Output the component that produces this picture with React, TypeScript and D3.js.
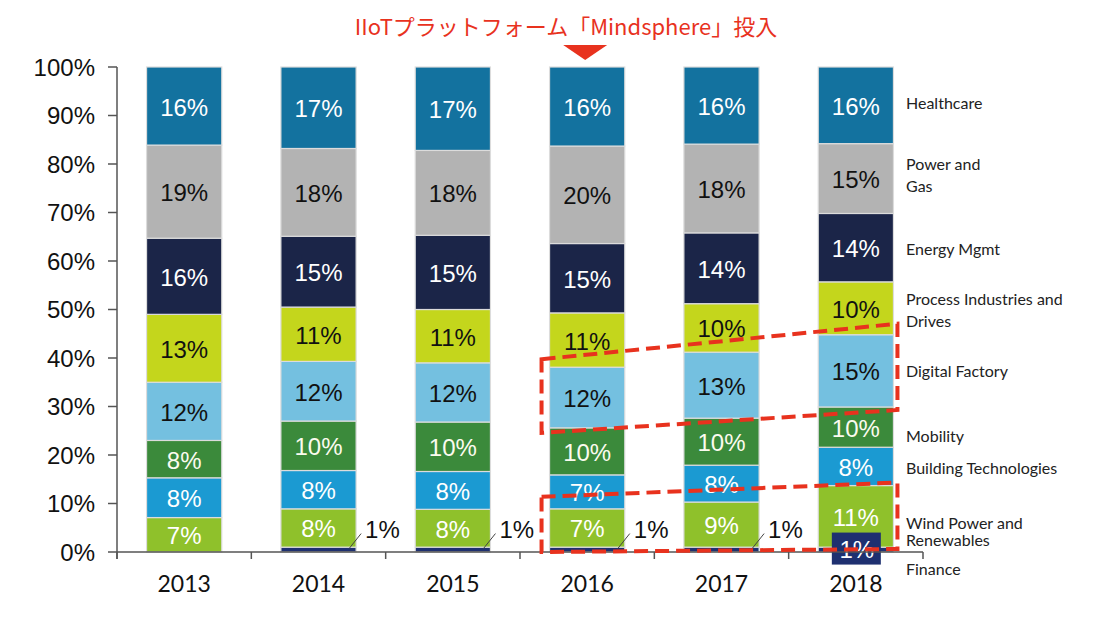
import React from 'react';
import * as d3 from 'd3';

// ---------- DATA ----------
const years = ['2013', '2014', '2015', '2016', '2017', '2018'];

// share of each business segment per year (percent)
const finance = [0, 1.0, 1.0, 1.0, 1.0, 1.0];
const windPower = [7.1, 7.9, 7.8, 7.9, 9.3, 12.7];
const buildingTech = [8.2, 7.9, 7.8, 7.0, 7.6, 7.9];
const mobility = [7.7, 10.2, 10.2, 9.7, 9.7, 8.3];
const digitalFactory = [12.0, 12.3, 12.2, 12.5, 13.6, 14.9];
const processIndustries = [14.0, 11.2, 11.0, 11.2, 10.0, 10.9];
const energyMgmt = [15.7, 14.6, 15.3, 14.3, 14.6, 14.1];
const powerGas = [19.2, 18.1, 17.5, 20.1, 18.3, 14.4];
const healthcare = [16.1, 16.8, 17.2, 16.3, 15.9, 15.8];

// printed data labels (percent)
const financeLabels = [0, 1, 1, 1, 1, 1];
const windPowerLabels = [7, 8, 8, 7, 9, 11];
const buildingTechLabels = [8, 8, 8, 7, 8, 8];
const mobilityLabels = [8, 10, 10, 10, 10, 10];
const digitalFactoryLabels = [12, 12, 12, 12, 13, 15];
const processIndustriesLabels = [13, 11, 11, 11, 10, 10];
const energyMgmtLabels = [16, 15, 15, 15, 14, 14];
const powerGasLabels = [19, 18, 18, 20, 18, 15];
const healthcareLabels = [16, 17, 17, 16, 16, 16];

const seriesNames = [
  'Finance',
  'Wind Power and Renewables',
  'Building Technologies',
  'Mobility',
  'Digital Factory',
  'Process Industries and Drives',
  'Energy Mgmt',
  'Power and Gas',
  'Healthcare',
];
const seriesValues = [finance, windPower, buildingTech, mobility, digitalFactory, processIndustries, energyMgmt, powerGas, healthcare];
const seriesLabels = [financeLabels, windPowerLabels, buildingTechLabels, mobilityLabels, digitalFactoryLabels, processIndustriesLabels, energyMgmtLabels, powerGasLabels, healthcareLabels];

const yTicks = [0, 10, 20, 30, 40, 50, 60, 70, 80, 90, 100];
const titleText = 'IIoTプラットフォーム「Mindsphere」投入';
const launchYear = '2016';

// ---------- STYLE ----------
const colors = ['#1e3070', '#8fc12b', '#1b9ad2', '#3b8a3b', '#74c0e0', '#c4d61c', '#1b2548', '#b3b3b3', '#13729f'];
const labelColors = ['#111', '#ffffff', '#ffffff', '#fbfbef', '#111', '#111', '#ffffff', '#111', '#ffffff'];
const legendLines = [
  ['Finance'],
  ['Wind Power and', 'Renewables'],
  ['Building Technologies'],
  ['Mobility'],
  ['Digital Factory'],
  ['Process Industries and', 'Drives'],
  ['Energy Mgmt'],
  ['Power and', 'Gas'],
  ['Healthcare'],
];
const legendNudge = [18, 14, 1, 8, -1, 1, 0, -5, -3];
const legendLineGap = [0, 17, 0, 0, 0, 22, 0, 22, 0];

const W = 1097;
const H = 617;
const plotLeft = 117;
const plotRight = 923;
const plotTop = 67;
const plotBottom = 552;
const RED = '#e8321e';
const AXIS = '#555';

export default function App() {
  const x = d3.scaleBand<string>().domain(years).range([plotLeft, plotRight]).paddingInner(0.44).paddingOuter(0.22);
  const y = d3.scaleLinear().domain([0, 100]).range([plotBottom, plotTop]);
  const step = x.step();
  const bw = x.bandwidth();

  const table = years.map((yr, i) => {
    const row: Record<string, number | string> = { year: yr };
    seriesNames.forEach((s, k) => (row[s] = seriesValues[k][i]));
    return row;
  });
  const stacked = d3.stack<any>().keys(seriesNames)(table);

  const boundaries = d3.range(years.length + 1).map((i) => plotLeft + i * step);
  const last = years.length - 1;
  const seg = (k: number, i: number) => stacked[k][i];

  // dashed annotation boxes, anchored to the data
  const i16 = years.indexOf('2016');
  const i18 = years.indexOf('2018');
  const bxL = (x('2016') as number) - 8;
  const bxR = (x('2018') as number) + bw + 4;
  const dig = seriesNames.indexOf('Digital Factory');
  const wnd = seriesNames.indexOf('Wind Power and Renewables');
  const box1 = [
    [bxL, y(seg(dig, i16)[1]) - 8],
    [bxR, y(seg(dig, i18)[1]) - 11],
    [bxR, y(seg(dig, i18)[0]) + 3],
    [bxL, y(seg(dig, i16)[0]) + 5],
  ];
  const box2 = [
    [bxL, y(seg(wnd, i16)[1]) - 12],
    [bxR, y(seg(wnd, i18)[1]) - 3],
    [bxR, y(0) - 3],
    [bxL, y(0)],
  ];
  const poly = (pts: number[][]) => 'M' + pts.map((p) => p.join(',')).join('L') + 'Z';

  const triX = (x(launchYear) as number) + bw / 2 - 2;

  const barFont = '"Liberation Sans", Arial, sans-serif';
  const lblFont = 'Lato, "Open Sans", sans-serif';

  return (
    <svg width={W} height={H} style={{ position: 'absolute', left: 0, top: 0, background: '#fff' }}>
      {/* title */}
      <text x={566} y={25} textAnchor="middle" dominantBaseline="central" fill={RED} fontSize={22} fontFamily='"Noto Sans CJK JP", "Noto Sans", sans-serif'>
        {titleText}
      </text>
      <path d={`M${triX - 22},45L${triX + 22},45L${triX},60Z`} fill={RED} />

      {/* bars */}
      {stacked.map((layer, k) => (
        <g key={seriesNames[k]}>
          {layer.map((d, i) => {
            const h = y(d[0]) - y(d[1]);
            if (h <= 0) return null;
            return (
              <rect
                key={i}
                x={x(years[i])}
                y={y(d[1])}
                width={bw}
                height={h}
                fill={colors[k]}
                stroke="#dcdcdc"
                strokeWidth={1.2}
              />
            );
          })}
        </g>
      ))}

      {/* data labels */}
      {stacked.map((layer, k) =>
        layer.map((d, i) => {
          const lbl = seriesLabels[k][i];
          if (!lbl) return null;
          const cx = (x(years[i]) as number) + bw / 2;
          const cy = (y(d[0]) + y(d[1])) / 2;
          if (k === 0) {
            const right = (x(years[i]) as number) + bw;
            if (i === last) {
              return (
                <g key={`l${k}${i}`}>
                  <rect x={cx - 24} y={cy - 17} width={49} height={32} fill={colors[0]} />
                  <text x={cx + 1} y={cy} textAnchor="middle" dominantBaseline="central" fill="#fff" fontSize={24} fontFamily={barFont}>
                    {lbl}%
                  </text>
                </g>
              );
            }
            return (
              <g key={`l${k}${i}`}>
                <line x1={right - 7} y1={cy - 1} x2={right + 5} y2={cy - 16} stroke="#444" strokeWidth={1} />
                <text x={right + 9} y={cy - 20} dominantBaseline="central" fill="#111" fontSize={24} fontFamily={barFont}>
                  {lbl}%
                </text>
              </g>
            );
          }
          return (
            <text key={`l${k}${i}`} x={cx} y={cy + 1} textAnchor="middle" dominantBaseline="central" fill={labelColors[k]} fontSize={24} fontFamily={barFont}>
              {lbl}%
            </text>
          );
        })
      )}

      {/* y axis */}
      <line x1={plotLeft} x2={plotLeft} y1={plotTop} y2={plotBottom + 7} stroke={AXIS} strokeWidth={1.5} />
      {yTicks.map((t) => (
        <g key={t}>
          <line x1={plotLeft - 9} x2={plotLeft} y1={y(t)} y2={y(t)} stroke={AXIS} strokeWidth={1.5} />
          <text x={95} y={y(t)} textAnchor="end" dominantBaseline="central" fontSize={24} fill="#111" fontFamily={barFont}>
            {t}%
          </text>
        </g>
      ))}

      {/* x axis */}
      <line x1={plotLeft} x2={plotRight} y1={plotBottom} y2={plotBottom} stroke={AXIS} strokeWidth={1.5} />
      {boundaries.map((b, i) => (
        <line key={i} x1={b} x2={b} y1={plotBottom} y2={plotBottom + 7} stroke={AXIS} strokeWidth={1.5} />
      ))}
      {years.map((yr) => (
        <text key={yr} x={(x(yr) as number) + bw / 2} y={583} textAnchor="middle" dominantBaseline="central" fontSize={23} fill="#111" fontFamily={lblFont}>
          {yr}
        </text>
      ))}

      {/* series names next to the last bar */}
      {seriesNames.map((s, k) => {
        const d = seg(k, last);
        const cy = (y(d[0]) + y(d[1])) / 2 + legendNudge[k];
        const lines = legendLines[k];
        const gap = legendLineGap[k];
        const y0 = cy - ((lines.length - 1) * gap) / 2;
        return (
          <text key={s} x={906} fontSize={16} fill="#222" fontFamily={lblFont} dominantBaseline="central">
            {lines.map((ln, j) => (
              <tspan key={j} x={906} y={y0 + j * gap}>
                {ln}
              </tspan>
            ))}
          </text>
        );
      })}

      {/* dashed annotation boxes */}
      <path d={poly(box1)} fill="none" stroke={RED} strokeWidth={4} strokeDasharray="14 7" />
      <path d={poly(box2)} fill="none" stroke={RED} strokeWidth={4} strokeDasharray="14 7" />
    </svg>
  );
}
